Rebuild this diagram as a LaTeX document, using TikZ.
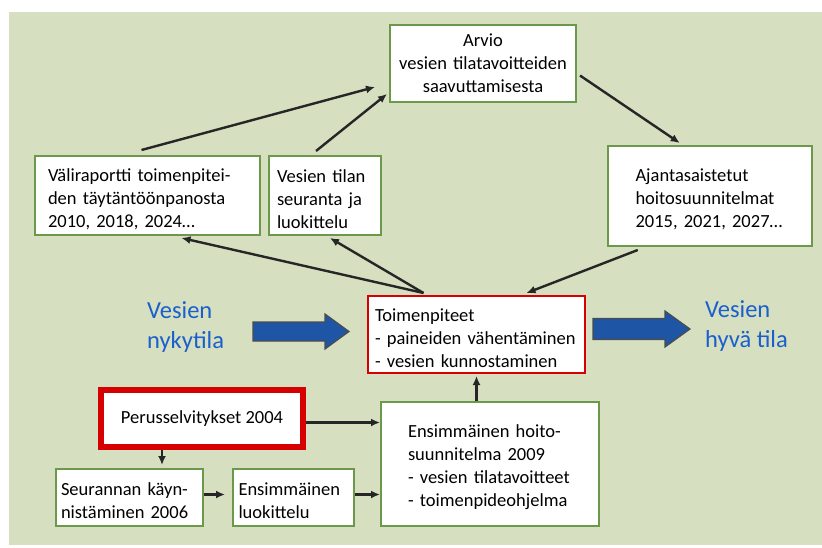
\documentclass[tikz,border=0pt]{standalone}
\usepackage{fontspec}
\setmainfont{Carlito}
\usetikzlibrary{arrows.meta,calc}

\definecolor{bggreen}{RGB}{214,223,192}
\definecolor{boxgreen}{RGB}{108,152,76}
\definecolor{boxred}{RGB}{215,0,0}
\definecolor{textblue}{RGB}{25,95,205}
\definecolor{arrowblue}{RGB}{30,85,165}
\definecolor{linegrey}{RGB}{38,38,38}

\newcommand{\boxfont}{\fontsize{18.5}{23}\selectfont}

\tikzset{
  plainbox/.style={draw=boxgreen, line width=2pt, fill=white, align=left, inner ysep=0pt, font=\boxfont},
  box/.style={plainbox, execute at begin node={\hyphenpenalty=10000\rule{0pt}{20pt}}},
  redbox/.style={box, draw=boxred},
  arr/.style={draw=linegrey, line width=2.4pt, -{Latex[length=9pt,width=8pt]}},
  bigarrow/.style={draw=black!70, line width=1.2pt, fill=arrowblue},
  bluetext/.style={text=textblue, align=left, inner sep=0pt, anchor=west, font=\fontsize{24.5}{30}\selectfont},
}

\begin{document}
\begin{tikzpicture}[x=1pt,y=-1pt]
\useasboundingbox (0,0) rectangle (822,547);
\fill[bggreen] (9,12) rectangle (822,545);

\node[plainbox, align=center, inner xsep=6pt, text width=174pt, minimum width=186pt, minimum height=77pt] (arvio) at (483,63.5) {Arvio\\vesien tilatavoitteiden\\saavuttamisesta};
\node[box, inner xsep=13pt, text width=199pt, minimum height=79pt] (vali) at (147.5,195.5) {Väliraportti toimenpitei-\\den täytäntöönpanosta\\2010, 2018, 2024…};
\node[box, inner xsep=8pt, text width=96pt, minimum height=79pt] (seur) at (325,195.5) {Vesien tilan\\seuranta ja\\luokittelu};
\node[box, inner xsep=28pt, text width=148.5pt, minimum height=100pt] (ajan) at (709.75,196) {Ajantasaistetut\\hoitosuunnitelmat\\2015, 2021, 2027…};

\node[redbox, inner xsep=7pt, text width=203pt, minimum height=77pt] (toimen) at (476.5,334.5) {Toimenpiteet\\- paineiden vähentäminen\\- vesien kunnostaminen};

\node[plainbox, draw=boxred, line width=6pt, align=center, minimum width=202pt, minimum height=57pt] (perus) at (202,418.5) {Perusselvitykset 2004};
\node[box, inner xsep=27pt, text width=164pt, minimum height=124pt] (hoito) at (490,464) {Ensimmäinen hoito-\\suunnitelma 2009\\- vesien tilatavoitteet\\- toimenpideohjelma};
\node[box, inner xsep=5pt, text width=136.5pt, minimum height=57pt] (kayn) at (129.25,497.5) {Seurannan käyn-\\nistäminen 2006};
\node[box, inner xsep=5.5pt, text width=110pt, minimum height=57pt] (luok) at (293.5,497.5) {Ensimmäinen\\luokittelu};

\node[bluetext] (nykytila) at (147,327) {Vesien\\nykytila};
\node[bluetext] (hyvatila) at (705,326) {Vesien\\hyvä tila};

\draw[bigarrow] (253,322) -- (325,322) -- (325,314) -- (349,331.5) -- (325,349) -- (325,341) -- (253,341) -- cycle;
\draw[bigarrow] (593,318.5) -- (665,318.5) -- (665,311) -- (690,329) -- (665,347) -- (665,339.5) -- (593,339.5) -- cycle;

\draw[arr] ([xshift=-6pt,yshift=5pt]vali.north) -- ([xshift=-14pt,yshift=16pt]arvio.south west);
\draw[arr] ([xshift=-9pt,yshift=4pt]seur.north) -- ([xshift=-2pt,yshift=9pt]arvio.south west);
\draw[arr] ([xshift=3pt,yshift=-12pt]arvio.east) -- ([xshift=-30pt,yshift=2pt]ajan.north);
\draw[arr] ([xshift=-53pt,yshift=2pt]toimen.north) -- ([xshift=34pt,yshift=-2pt]vali.south);
\draw[arr] ([xshift=-53pt,yshift=2pt]toimen.north) -- ([xshift=5pt,yshift=-2pt]seur.south);
\draw[arr] ([xshift=-72pt,yshift=-3pt]ajan.south) -- ([xshift=50pt,yshift=2pt]toimen.north);
\draw[arr] (toimen.south |- hoito.north) -- ([yshift=-2pt]toimen.south);
\draw[arr] ([yshift=-4pt]perus.east) -- ([yshift=-4pt]perus.east -| hoito.west);
\draw[arr, shorten >=3pt] ([xshift=-40pt]perus.south) -- ([xshift=-40pt]perus.south |- kayn.north);
\draw[arr, shorten >=7pt] ([yshift=3pt]kayn.east) -- ([yshift=3pt]kayn.east -| luok.west);
\draw[arr] ([yshift=3pt]luok.east) -- ([yshift=3pt]luok.east -| hoito.west);

\end{tikzpicture}
\end{document}
